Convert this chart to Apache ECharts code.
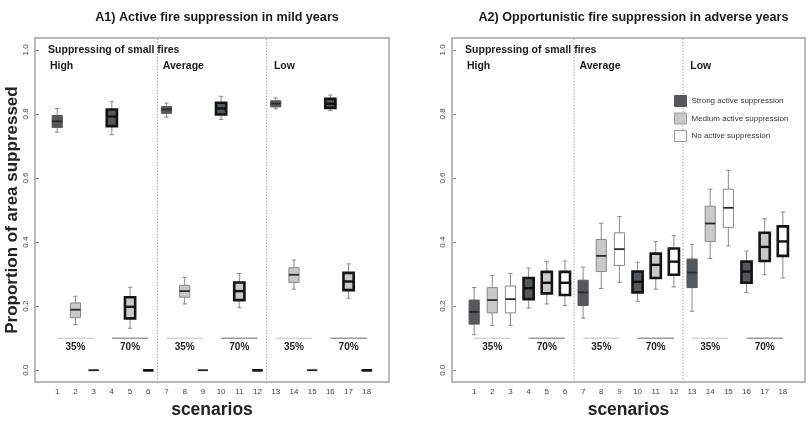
<!DOCTYPE html>
<html>
<head>
<meta charset="utf-8">
<script src="https://cdn.jsdelivr.net/npm/echarts@6/dist/echarts.min.js"></script>
<style>
  html, body { margin: 0; padding: 0; background: #fff; }
  #chart { width: 808px; height: 424px; }
</style>
</head>
<body>
<div id="chart"></div>
<script>
// scenario numbers on the x axis
const scenarios = [1, 2, 3, 4, 5, 6, 7, 8, 9, 10, 11, 12, 13, 14, 15, 16, 17, 18];
const yTicks = [0, 0.2, 0.4, 0.6, 0.8, 1.0];

// box stats per scenario: [lower whisker, Q1, median, Q3, upper whisker]
const a1Stats = [
  [0.743, 0.758, 0.777, 0.795, 0.817],
  [0.143, 0.164, 0.189, 0.210, 0.231],
  [0, 0, 0, 0, 0],
  [0.735, 0.762, 0.792, 0.814, 0.838],
  [0.131, 0.162, 0.198, 0.228, 0.259],
  [0, 0, 0, 0, 0],
  [0.790, 0.802, 0.814, 0.823, 0.834],
  [0.207, 0.228, 0.247, 0.265, 0.290],
  [0, 0, 0, 0, 0],
  [0.783, 0.798, 0.817, 0.835, 0.855],
  [0.195, 0.219, 0.247, 0.274, 0.302],
  [0, 0, 0, 0, 0],
  [0.816, 0.822, 0.832, 0.841, 0.850],
  [0.253, 0.274, 0.298, 0.320, 0.344],
  [0, 0, 0, 0, 0],
  [0.810, 0.819, 0.832, 0.847, 0.859],
  [0.225, 0.250, 0.277, 0.304, 0.332],
  [0, 0, 0, 0, 0]
];
const a2Stats = [
  [0.111, 0.144, 0.182, 0.219, 0.258],
  [0.140, 0.179, 0.219, 0.258, 0.296],
  [0.140, 0.179, 0.222, 0.263, 0.302],
  [0.194, 0.222, 0.256, 0.288, 0.319],
  [0.207, 0.240, 0.273, 0.307, 0.339],
  [0.202, 0.235, 0.273, 0.307, 0.341],
  [0.163, 0.202, 0.243, 0.281, 0.322],
  [0.255, 0.308, 0.357, 0.408, 0.459],
  [0.274, 0.327, 0.378, 0.429, 0.480],
  [0.215, 0.243, 0.276, 0.308, 0.337],
  [0.253, 0.288, 0.329, 0.364, 0.402],
  [0.260, 0.298, 0.339, 0.380, 0.420],
  [0.184, 0.258, 0.305, 0.347, 0.393],
  [0.349, 0.402, 0.458, 0.512, 0.565],
  [0.388, 0.446, 0.507, 0.565, 0.624],
  [0.243, 0.273, 0.308, 0.339, 0.372],
  [0.298, 0.341, 0.385, 0.429, 0.473],
  [0.288, 0.357, 0.402, 0.449, 0.494]
];

const treatments = ['Strong active suppression', 'Medium active suppression', 'No active suppression'];
const groupRanges = [[1, 3], [4, 6], [7, 9], [10, 12], [13, 15], [16, 18]];
const groupLabels = ['35%', '70%', '35%', '70%', '35%', '70%'];
const groupLevel = 0.1;
const sectionBreaks = [6.5, 12.5];
const sectionNames = ['High', 'Average', 'Low'];
const sectionStarts = [0.6, 6.8, 12.9];
const panelTitles = ['A1) Active fire suppression in mild years', 'A2) Opportunistic fire suppression in adverse years'];

const FONT = "'Liberation Sans', Arial, sans-serif";
const fills = ['#56595b', '#c8caca', '#ffffff'];
const X_MIN = -0.22, X_MAX = 19.22, Y_MIN = -0.037, Y_MAX = 1.037;

const myChart = echarts.init(document.getElementById('chart'));

const grids = [
  { left: 35, top: 38, width: 354, height: 352 },
  { left: 452, top: 38, width: 353, height: 352 }
];

function makeXAxis(i) {
  return {
    gridIndex: i, type: 'value', min: X_MIN, max: X_MAX,
    name: 'scenarios', nameLocation: 'middle', nameGap: 10,
    nameTextStyle: { fontFamily: FONT, fontSize: 17.5, fontWeight: 'bold', color: '#222', verticalAlign: 'top' },
    axisLine: { show: false },
    axisTick: { show: false, customValues: scenarios },
    axisLabel: { customValues: scenarios, fontFamily: FONT, fontSize: 8, color: '#444', margin: 6 },
    splitLine: { show: false }
  };
}

function makeYAxis(i) {
  return {
    gridIndex: i, type: 'value', min: Y_MIN, max: Y_MAX,
    name: i === 0 ? 'Proportion of area suppressed' : '',
    nameLocation: 'middle', nameGap: 14, nameRotate: 90,
    nameTextStyle: { fontFamily: FONT, fontSize: 17, fontWeight: 'bold', color: '#222' },
    axisLine: { show: false },
    axisTick: { show: true, length: 3, customValues: yTicks, lineStyle: { color: '#888' } },
    axisLabel: {
      customValues: yTicks, rotate: 90, fontFamily: FONT, fontSize: 8, color: '#444', margin: 5,
      formatter: function (v) { return v.toFixed(1); }
    },
    splitLine: { show: false }
  };
}

// one series per treatment per panel, boxes drawn with the axes' own coords
function makeBoxSeries(panel, stats, t) {
  const data = [];
  scenarios.forEach(function (s, i) {
    if ((s - 1) % 3 === t) data.push([s].concat(stats[i]));
  });
  return {
    name: treatments[t],
    type: 'custom',
    xAxisIndex: panel, yAxisIndex: panel,
    encode: { x: 0, y: [1, 2, 3, 4, 5] },
    data: data,
    z: 5,
    renderItem: function (params, api) {
      const x = api.value(0);
      const lo = api.value(1), q1 = api.value(2), med = api.value(3), q3 = api.value(4), hi = api.value(5);
      const thick = Math.floor((x - 1) / 3) % 2 === 1;
      const hw = 0.28, cw = 0.12;
      const pa = api.coord([x - hw, q3]);
      const pb = api.coord([x + hw, q1]);
      const pHi = api.coord([x, hi]);
      const pLo = api.coord([x, lo]);
      const pq3 = api.coord([x, q3]);
      const pq1 = api.coord([x, q1]);
      const cL = api.coord([x - cw, hi])[0], cR = api.coord([x + cw, hi])[0];
      const whisk = { stroke: '#8a8a8a', lineWidth: 1 };
      const border = thick ? { stroke: '#151515', lineWidth: 2.6 } : { stroke: t === 0 ? '#555' : '#8a8a8a', lineWidth: 1 };
      return {
        type: 'group',
        children: [
          { type: 'line', shape: { x1: pHi[0], y1: pHi[1], x2: pq3[0], y2: pq3[1] }, style: whisk },
          { type: 'line', shape: { x1: pLo[0], y1: pLo[1], x2: pq1[0], y2: pq1[1] }, style: whisk },
          { type: 'line', shape: { x1: cL, y1: pHi[1], x2: cR, y2: pHi[1] }, style: whisk },
          { type: 'line', shape: { x1: cL, y1: pLo[1], x2: cR, y2: pLo[1] }, style: whisk },
          {
            type: 'rect',
            shape: { x: pa[0], y: pa[1], width: pb[0] - pa[0], height: pb[1] - pa[1] },
            style: { fill: fills[t], stroke: border.stroke, lineWidth: border.lineWidth }
          },
          {
            type: 'line',
            shape: { x1: pa[0], y1: api.coord([x, med])[1], x2: pb[0], y2: api.coord([x, med])[1] },
            style: { stroke: thick ? '#111' : '#2a2a2a', lineWidth: thick ? 2.4 : 1.8 }
          }
        ]
      };
    }
  };
}

// 35% / 70% bars and their labels
function makeGroupSeries(panel) {
  return {
    type: 'custom', xAxisIndex: panel, yAxisIndex: panel,
    data: groupRanges, silent: true, z: 3,
    renderItem: function (params, api) {
      const a = api.coord([api.value(0), groupLevel]);
      const b = api.coord([api.value(1), groupLevel]);
      const label = groupLabels[params.dataIndex];
      const mid = api.coord([(api.value(0) + api.value(1)) / 2, groupLevel]);
      return {
        type: 'group',
        children: [
          { type: 'line', shape: { x1: a[0], y1: a[1], x2: b[0], y2: b[1] },
            style: { stroke: label === '35%' ? '#d6d6d6' : '#9c9c9c', lineWidth: 1.5 } },
          { type: 'text', x: mid[0], y: mid[1] + 9,
            style: { text: label, font: 'bold 10px ' + FONT, fill: '#222', align: 'center', verticalAlign: 'middle' } }
        ]
      };
    }
  };
}

// dotted section dividers
function makeBreakSeries(panel) {
  return {
    type: 'custom', xAxisIndex: panel, yAxisIndex: panel,
    data: sectionBreaks, silent: true, z: 2,
    renderItem: function (params, api) {
      const a = api.coord([api.value(0), Y_MIN]);
      const b = api.coord([api.value(0), Y_MAX]);
      return { type: 'line', shape: { x1: a[0], y1: a[1], x2: b[0], y2: b[1] },
        style: { stroke: '#a0a0a0', lineWidth: 1, lineDash: [1.5, 1.5] } };
    }
  };
}

// panel annotations: heading and section names
function makeTextSeries(panel) {
  const items = [[0.5, 1.0, 'Suppressing of small fires']];
  sectionNames.forEach(function (n, i) { items.push([sectionStarts[i], 0.95, n]); });
  return {
    type: 'custom', xAxisIndex: panel, yAxisIndex: panel,
    data: items.map(function (d) { return [d[0], d[1]]; }), silent: true, z: 4,
    renderItem: function (params, api) {
      const p = api.coord([api.value(0), api.value(1)]);
      return { type: 'text', x: p[0], y: p[1],
        style: { text: items[params.dataIndex][2], font: 'bold 10.5px ' + FONT, fill: '#1a1a1a', align: 'left', verticalAlign: 'middle' } };
    }
  };
}

const series = [];
[a1Stats, a2Stats].forEach(function (stats, p) {
  series.push(makeBreakSeries(p));
  series.push(makeGroupSeries(p));
  series.push(makeTextSeries(p));
  for (let t = 0; t < 3; t++) series.push(makeBoxSeries(p, stats, t));
});

const option = {
  animation: false,
  textStyle: { fontFamily: FONT },
  title: panelTitles.map(function (txt, i) {
    return {
      text: txt, left: grids[i].left + grids[i].width / 2, top: 6, textAlign: 'center',
      textStyle: { fontFamily: FONT, fontSize: 12.6, fontWeight: 'bold', color: '#1a1a1a' }
    };
  }),
  legend: {
    orient: 'vertical', left: 669, top: 90, itemWidth: 12, itemHeight: 11, itemGap: 5.5,
    selectedMode: false,
    textStyle: { fontFamily: FONT, fontSize: 8, color: '#333' },
    data: treatments.map(function (n, t) {
      return { name: n, icon: 'rect', itemStyle: { color: fills[t], borderColor: t === 0 ? '#555' : '#999', borderWidth: 1 } };
    })
  },
  grid: grids.map(function (g) {
    return Object.assign({ show: true, borderColor: '#a3a3a3', borderWidth: 1.5, backgroundColor: 'transparent' }, g);
  }),
  xAxis: [makeXAxis(0), makeXAxis(1)],
  yAxis: [makeYAxis(0), makeYAxis(1)],
  series: series
};

option && myChart.setOption(option);
</script>
</body>
</html>
